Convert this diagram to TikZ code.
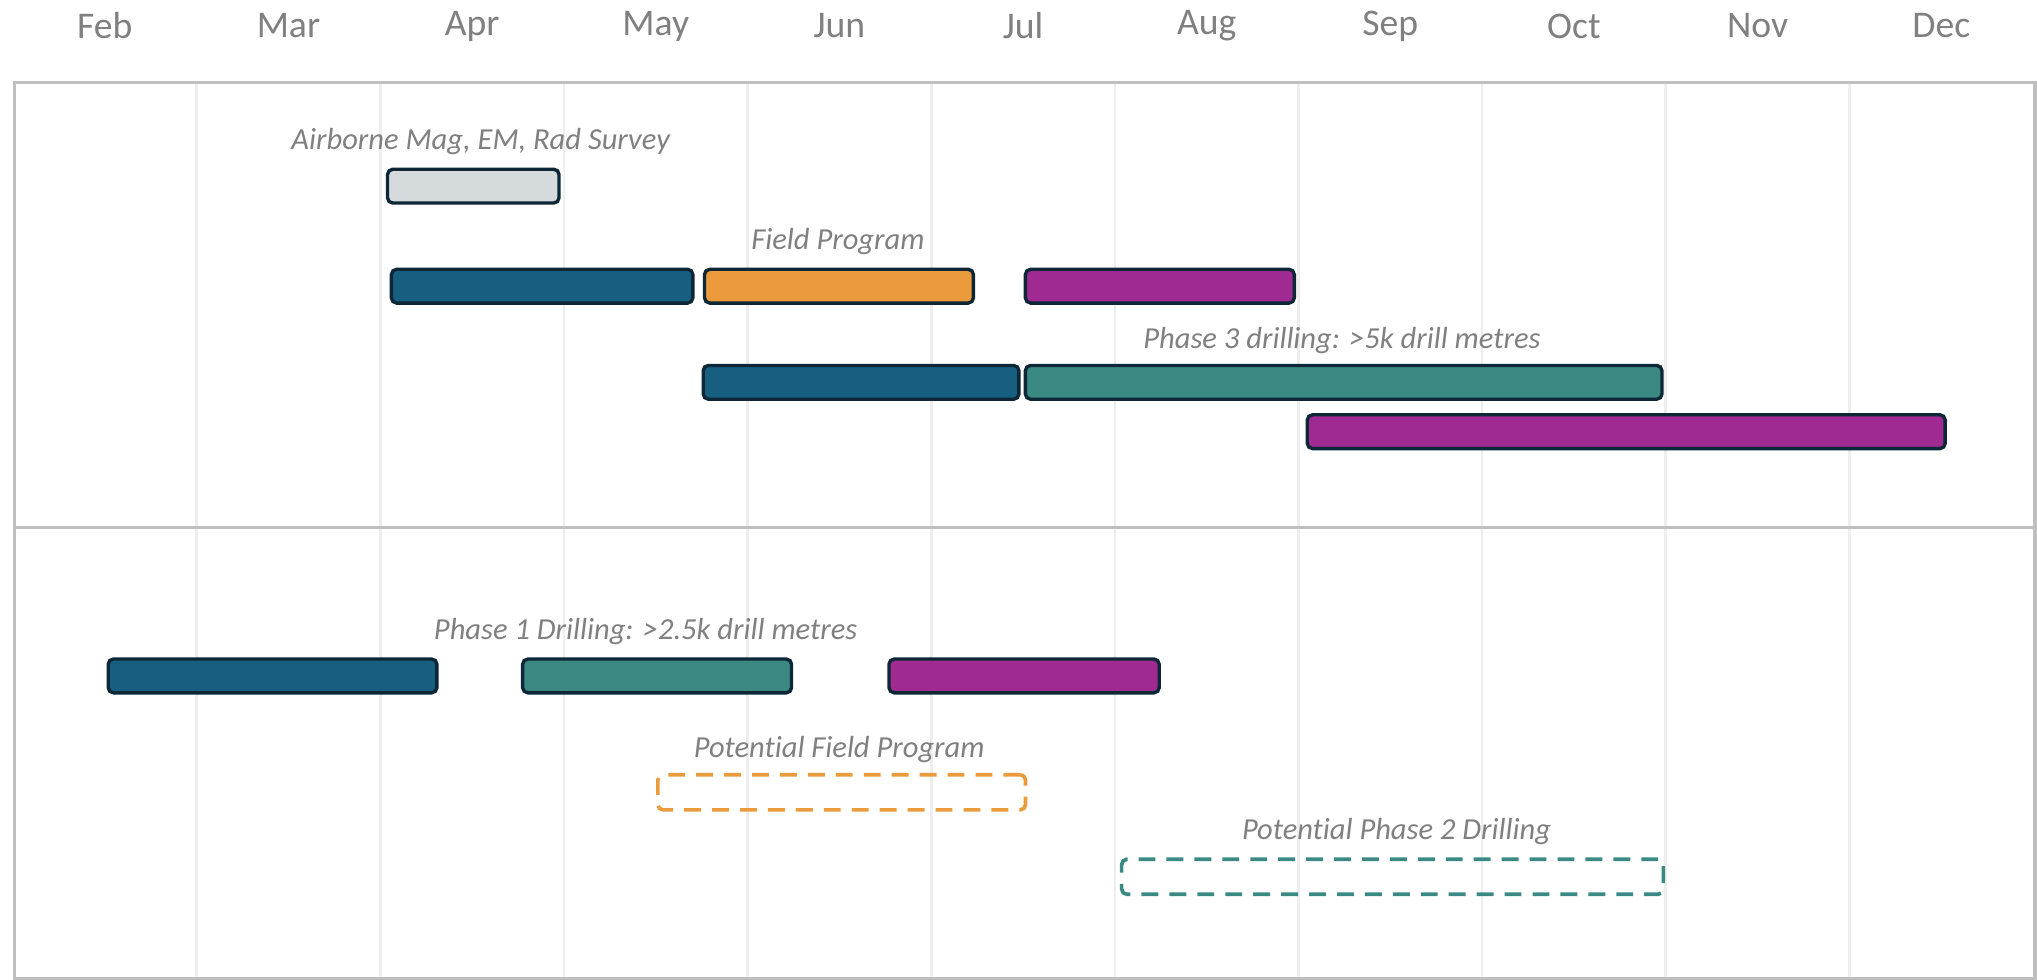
\documentclass[tikz,border=0pt]{standalone}
\usepackage{fontspec}
\setmainfont{Carlito}[Ligatures=NoCommon]
\definecolor{framegray}{HTML}{BFBFBF}
\definecolor{gridgray}{HTML}{EEEEEE}
\definecolor{txtgray}{HTML}{808080}
\definecolor{edge}{HTML}{0E2737}
\definecolor{cgrey}{HTML}{D5DADD}
\definecolor{cblue}{HTML}{165F81}
\definecolor{corange}{HTML}{EB9B3B}
\definecolor{cpurple}{HTML}{9F2A91}
\definecolor{cteal}{HTML}{3A8A83}
\begin{document}
\begin{tikzpicture}[x=1pt,y=-1pt,
  bar/.style={draw=edge, line width=2.6pt, rounded corners=4pt, inner sep=0pt,
    minimum height=26pt, anchor=north west, fill=#1},
  dbar/.style={draw=#1, line width=2.8pt, dash pattern=on 13pt off 8.5pt, rounded corners=4pt,
    inner sep=0pt, minimum height=27pt, anchor=north west},
  month/.style={text=txtgray, font=\fontsize{29}{32}\selectfont, inner sep=0pt},
  lbl/.style={text=txtgray, font=\fontsize{23.5}{26}\selectfont\itshape, inner sep=0pt},
]
\useasboundingbox (0,0) rectangle (1568,754);
% grid lines
\foreach \i in {1,...,10}{
  \draw[gridgray, line width=2pt] (10+141.36*\i,62) -- (10+141.36*\i,752);
}
% frame
\node[draw=framegray, line width=2.6pt, inner sep=0pt, minimum width=1555pt, minimum height=690pt, anchor=north west] (frame) at (10,62) {};
\draw[framegray, line width=2.6pt] (10,406) coordinate (ml) -- (1565,406) coordinate (mr);
% months
\foreach \m [count=\i from 0] in {Feb,Mar,Apr,May,Jun,Jul,Aug,Sep,Oct,Nov,Dec}{
  \node[month] (m\i) at (80.7+141.36*\i,20) {\m};
}
% upper section
\node[lbl] (l1) at (370,109) {Airborne Mag, EM, Rad Survey};
\node[bar=cgrey, minimum width=132pt] (b1) at (297,129) {};
\node[lbl] (l2) at (645,186) {Field Program};
\node[bar=cblue, minimum width=232pt] (b2) at (300,206) {};
\node[bar=corange, minimum width=207pt] (b3) at (541,206) {};
\node[bar=cpurple, minimum width=207pt] (b4) at (788,206) {};
\node[lbl] (l3) at (1033,262) {Phase 3 drilling: >5k drill metres};
\node[bar=cblue, minimum width=243pt] (b5) at (540,280) {};
\node[bar=cteal, minimum width=490pt] (b6) at (788,280) {};
\node[bar=cpurple, minimum width=491pt] (b7) at (1005,318) {};
% lower section
\node[lbl] (l4) at (497,486) {Phase 1 Drilling: >2.5k drill metres};
\node[bar=cblue, minimum width=253pt] (b8) at (82,506) {};
\node[bar=cteal, minimum width=207pt] (b9) at (401,506) {};
\node[bar=cpurple, minimum width=208pt] (b10) at (683,506) {};
\node[lbl] (l5) at (646,577) {Potential Field Program};
\node[dbar=corange, minimum width=283pt] (b11) at (505,595) {};
\node[lbl] (l6) at (1075,640) {Potential Phase 2 Drilling};
\node[dbar=cteal, minimum width=417pt] (b12) at (862,660) {};
\end{tikzpicture}
\end{document}
